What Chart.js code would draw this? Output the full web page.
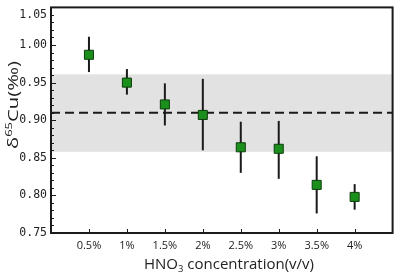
<!DOCTYPE html>
<html>
<head>
<meta charset="utf-8">
<script src="https://cdn.jsdelivr.net/npm/chart.js@4.4.1/dist/chart.umd.min.js"></script>
<style>
  html, body { margin: 0; padding: 0; background: #fff; }
</style>
</head>
<body>
<canvas id="myChart" width="400" height="274"></canvas>
<script>
// Werte
const concentrations = [0.5, 1, 1.5, 2, 2.5, 3, 3.5, 4];
const concLabels = ['0.5%', '1%', '1.5%', '2%', '2.5%', '3%', '3.5%', '4%'];
const deltaCu = [0.987, 0.950, 0.921, 0.907, 0.864, 0.862, 0.814, 0.798];
const errHigh = [1.011, 0.968, 0.949, 0.955, 0.898, 0.899, 0.852, 0.815];
const errLow = [0.964, 0.934, 0.893, 0.860, 0.830, 0.822, 0.776, 0.781];
const refMean = 0.910;
const refHigh = 0.961;
const refLow = 0.858;
const yTicks = [0.75, 0.80, 0.85, 0.90, 0.95, 1.00, 1.05];

const inkColor = '#1a1a1a';

// Hilfsplugin: grauer Bereich, Fehlerbalken, Rahmen, Ticks, Achsentitel
const extras = {
  id: 'extras',
  beforeDatasetsDraw(chart) {
    const { ctx, chartArea: a, scales: { y } } = chart;
    const top = y.getPixelForValue(refHigh);
    const bottom = y.getPixelForValue(refLow);
    ctx.save();
    ctx.fillStyle = '#e2e2e2';
    ctx.fillRect(a.left, top, a.right - a.left, bottom - top);
    ctx.restore();
  },
  beforeDatasetDraw(chart, args) {
    if (args.index !== 0) return;
    const { ctx, scales: { x, y } } = chart;
    ctx.save();
    ctx.strokeStyle = inkColor;
    ctx.lineWidth = 2;
    concentrations.forEach((c, i) => {
      const px = x.getPixelForValue(c);
      ctx.beginPath();
      ctx.moveTo(px, y.getPixelForValue(errHigh[i]));
      ctx.lineTo(px, y.getPixelForValue(errLow[i]));
      ctx.stroke();
    });
    ctx.restore();
  },
  afterDraw(chart) {
    const { ctx, chartArea: a, scales: { x, y } } = chart;
    ctx.save();
    ctx.strokeStyle = inkColor;
    ctx.lineWidth = 2;
    ctx.strokeRect(a.left, a.top, a.right - a.left, a.bottom - a.top);

    // Ticks nach innen
    ctx.lineWidth = 1;
    ctx.beginPath();
    for (let k = 75; k <= 105; k++) {
      const py = Math.round(y.getPixelForValue(k / 100)) + 0.5;
      const len = k % 5 === 0 ? 5 : 3;
      ctx.moveTo(a.left, py);
      ctx.lineTo(a.left + len, py);
    }
    concentrations.forEach(c => {
      const px = Math.round(x.getPixelForValue(c)) + 0.5;
      ctx.moveTo(px, a.bottom);
      ctx.lineTo(px, a.bottom - 4);
    });
    ctx.stroke();

    // oberstes Label (im Original nach unten versetzt)
    ctx.fillStyle = '#222';
    ctx.font = '11.5px "DejaVu Sans Mono"';
    ctx.textAlign = 'right';
    ctx.textBaseline = 'middle';
    ctx.fillText((1.05).toFixed(2), a.left - 4, 15);

    // x-Achsentitel mit Index
    ctx.textBaseline = 'alphabetic';
    ctx.textAlign = 'left';
    const big = '15px "Open Sans"';
    const small = '9.5px "Open Sans"';
    ctx.font = big;
    const w1 = ctx.measureText('HNO').width;
    const w3 = ctx.measureText(' concentration(v/v)').width;
    ctx.font = small;
    const w2 = ctx.measureText('3').width;
    let sx = 229 - (w1 + w2 + w3) / 2;
    const by = 269;
    ctx.font = big;
    ctx.fillText('HNO', sx, by);
    ctx.font = small;
    ctx.fillText('3', sx + w1, by + 3);
    ctx.font = big;
    ctx.fillText(' concentration(v/v)', sx + w1 + w2, by);

    // y-Achsentitel mit Exponent (im Original gestreckt)
    const yBig = '14px "Open Sans"';
    const ySmall = '9px "Open Sans"';
    ctx.translate(18, 105);
    ctx.rotate(-Math.PI / 2);
    ctx.scale(1.45, 1);
    ctx.font = yBig;
    const d1 = ctx.measureText('\u03b4').width;
    const d3 = ctx.measureText('Cu(\u2030)').width;
    ctx.font = ySmall;
    const d2 = ctx.measureText('65').width;
    let ty = -(d1 + d2 + d3) / 2;
    ctx.font = yBig;
    ctx.fillText('\u03b4', ty, 0);
    ctx.font = ySmall;
    ctx.fillText('65', ty + d1, -6);
    ctx.font = yBig;
    ctx.fillText('Cu(\u2030)', ty + d1 + d2, 0);
    ctx.restore();
  }
};

const ctx = document.getElementById('myChart').getContext('2d');
const myChart = new Chart(ctx, {
  type: 'scatter',
  data: {
    datasets: [{
      label: 'δ65Cu',
      data: concentrations.map((c, i) => ({ x: c, y: deltaCu[i] })),
      pointStyle: 'rect',
      pointRadius: 6.4,
      backgroundColor: '#1b8f1b',
      borderColor: '#0d3d0d',
      borderWidth: 1
    }, {
      type: 'line',
      label: 'Mittelwert',
      data: [{ x: 0, y: refMean }, { x: 4.5, y: refMean }],
      borderColor: inkColor,
      borderWidth: 2,
      borderDash: [9, 5],
      pointRadius: 0,
      fill: false
    }]
  },
  options: {
    responsive: false,
    animation: false,
    layout: { padding: { top: 3, right: 2, left: 0, bottom: 0 } },
    plugins: {
      legend: { display: false },
      tooltip: { enabled: false }
    },
    scales: {
      x: {
        type: 'linear',
        min: 0,
        max: 4.5,
        afterBuildTicks: s => { s.ticks = concentrations.map(v => ({ value: v })); },
        afterFit: s => { s.height = 41; s.paddingLeft = 0; s.paddingRight = 0; },
        grid: { display: false, drawTicks: false },
        border: { display: false },
        ticks: {
          autoSkip: false,
          maxRotation: 0,
          padding: 6,
          color: '#222',
          font: { family: 'Open Sans', size: 11 },
          callback: (v, i) => concLabels[i]
        }
      },
      y: {
        min: 0.75,
        max: 1.05,
        afterBuildTicks: s => { s.ticks = yTicks.map(v => ({ value: v })); },
        afterFit: s => { s.width = 51; s.paddingTop = 0; s.paddingBottom = 0; },
        grid: { display: false, drawTicks: false },
        border: { display: false },
        ticks: {
          padding: 4,
          color: '#222',
          font: { family: 'DejaVu Sans Mono', size: 11.5 },
          callback: v => (v === 1.05 ? '' : v.toFixed(2))
        }
      }
    }
  },
  plugins: [extras]
});
</script>
</body>
</html>
